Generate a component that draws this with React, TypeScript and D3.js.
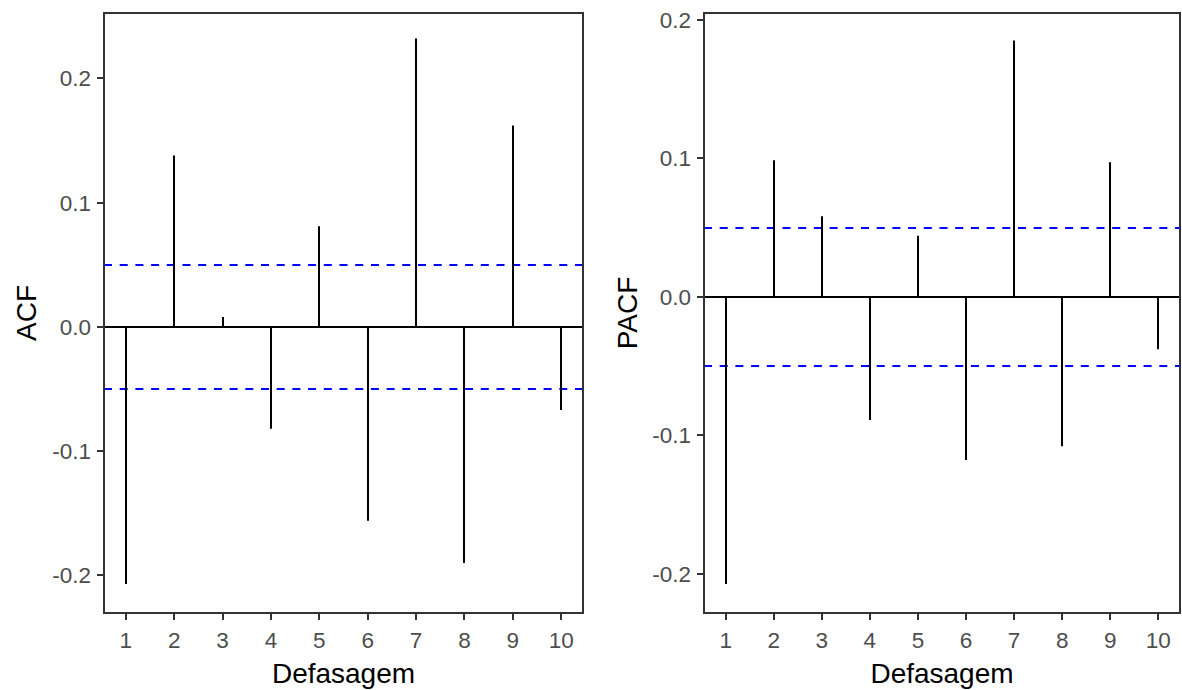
import React from "react";
import * as d3 from "d3";

const lags = [1, 2, 3, 4, 5, 6, 7, 8, 9, 10];
const acfValues = [-0.207, 0.138, 0.008, -0.082, 0.081, -0.156, 0.232, -0.190, 0.162, -0.067];
const pacfValues = [-0.2075, 0.0985, 0.058, -0.089, 0.044, -0.118, 0.185, -0.108, 0.097, -0.038];
const confBound = 0.0499;
const acfTicks = [-0.2, -0.1, 0.0, 0.1, 0.2];
const pacfTicks = [-0.2, -0.1, 0.0, 0.1, 0.2];
const xLabel = "Defasagem";

const FONT = "'Liberation Sans', Arial, sans-serif";

type PanelProps = {
  values: number[];
  ticks: number[];
  yDomain: [number, number];
  left: number;
  right: number;
  title: string;
  titleX: number;
};

const fmt = (t: number) => d3.format(".1f")(t).replace("\u2212", "-");

function Panel({ values, ticks, yDomain, left, right, title, titleX }: PanelProps) {
  const top = 13;
  const bottom = 613;
  const x = d3.scaleLinear().domain([0.55, 10.45]).range([left, right]);
  const y = d3.scaleLinear().domain(yDomain).range([bottom, top]);
  const r = (v: number) => Math.round(v);
  const midX = (left + right) / 2;
  const midY = (top + bottom) / 2;
  return (
    <g>
      {[confBound, -confBound].map((c, i) => (
        <line key={"c" + i} x1={left} x2={right} y1={r(y(c))} y2={r(y(c))} stroke="#0000ff" strokeWidth={2} strokeDasharray="8 7.7" />
      ))}
      <line x1={left} x2={right} y1={r(y(0))} y2={r(y(0))} stroke="#000" strokeWidth={2} />
      {values.map((v, i) => (
        <line key={"s" + i} x1={r(x(lags[i]))} x2={r(x(lags[i]))} y1={r(y(0))} y2={y(v)} stroke="#000" strokeWidth={2} />
      ))}
      <rect x={left} y={top} width={right - left} height={bottom - top} fill="none" stroke="#333" strokeWidth={2} />
      {ticks.map((t) => (
        <g key={"yt" + t}>
          <line x1={left - 7} x2={left} y1={r(y(t))} y2={r(y(t))} stroke="#333" strokeWidth={2} />
          <text x={left - 13} y={y(t)} dy="0.36em" textAnchor="end" fontFamily={FONT} fontSize={22.5} fill="#4d4d4d">
            {fmt(t)}
          </text>
        </g>
      ))}
      {lags.map((l) => (
        <g key={"xt" + l}>
          <line x1={r(x(l))} x2={r(x(l))} y1={bottom} y2={bottom + 7} stroke="#333" strokeWidth={2} />
          <text x={x(l)} y={648} textAnchor="middle" fontFamily={FONT} fontSize={22.5} fill="#4d4d4d">
            {l}
          </text>
        </g>
      ))}
      <text x={midX} y={683} textAnchor="middle" fontFamily={FONT} fontSize={28} fill="#000">
        {xLabel}
      </text>
      <text transform={`translate(${titleX},${midY}) rotate(-90)`} textAnchor="middle" fontFamily={FONT} fontSize={28} fill="#000">
        {title}
      </text>
    </g>
  );
}

export default function App() {
  return (
    <svg width={1182} height={690} style={{ position: "absolute", left: 0, top: 0, background: "#fff" }}>
      <rect width={1182} height={690} fill="#fff" />
      <Panel values={acfValues} ticks={acfTicks} yDomain={[-0.2303, 0.2526]} left={104} right={583} title="ACF" titleX={36} />
      <Panel values={pacfValues} ticks={pacfTicks} yDomain={[-0.2284, 0.2048]} left={704} right={1180} title="PACF" titleX={637} />
    </svg>
  );
}
